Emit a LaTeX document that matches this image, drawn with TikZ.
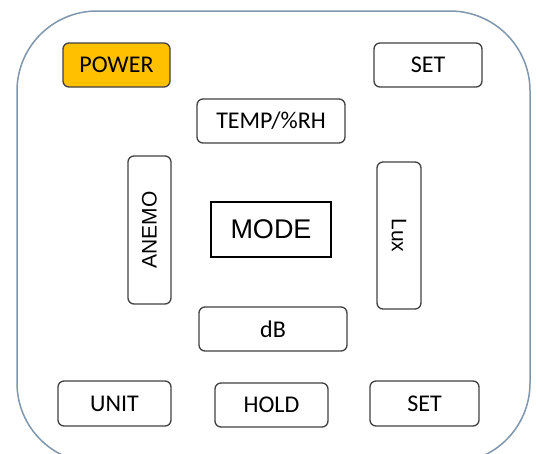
\documentclass[tikz,border=0pt]{standalone}
\usepackage{fontspec}
\setmainfont{Carlito}
\newfontfamily\arialf{Liberation Sans}
\definecolor{outerc}{RGB}{127,150,175}
\definecolor{btnc}{RGB}{64,64,64}
\definecolor{powc}{RGB}{255,192,0}
\begin{document}
\begin{tikzpicture}[x=1pt,y=-1pt,
  btn/.style={draw=btnc, line width=1.3pt, rounded corners=6pt, rectangle, inner sep=0pt,
    font=\fontsize{24}{24}\selectfont, text=black},
  vbtn/.style={btn, font=\arialf\fontsize{21}{21}\selectfont},
  modebox/.style={draw=black, line width=2.4pt, rectangle, inner sep=0pt,
    font=\arialf\fontsize{27}{27}\selectfont}]
\useasboundingbox (0,0) rectangle (537,453);
\draw[outerc, line width=1.5pt, rounded corners=80pt] (17,11) rectangle (530,463);
\node[btn, fill=powc, minimum width=107pt, minimum height=44pt] (power) at (116.5,65) {POWER};
\node[btn, minimum width=108pt, minimum height=44pt] (settop) at (428,65) {SET};
\node[btn, minimum width=148pt, minimum height=44pt] (temp) at (271,121) {TEMP/\%RH};
\node[vbtn, rotate=90, minimum width=148pt, minimum height=43pt] (anemo) at (149.5,230) {ANEMO};
\node[modebox, minimum width=120pt, minimum height=55pt] (mode) at (271,229.5) {MODE};
\node[vbtn, rotate=-90, minimum width=147pt, minimum height=44pt] (lux) at (399,235.5) {Lux};
\node[btn, minimum width=148pt, minimum height=44pt] (db) at (273,329) {dB};
\node[btn, minimum width=113pt, minimum height=45pt] (unit) at (114.5,403.5) {UNIT};
\node[btn, minimum width=113pt, minimum height=44pt] (hold) at (271.5,405) {HOLD};
\node[btn, minimum width=109pt, minimum height=45pt] (setbot) at (424.5,403.5) {SET};
\end{tikzpicture}
\end{document}
